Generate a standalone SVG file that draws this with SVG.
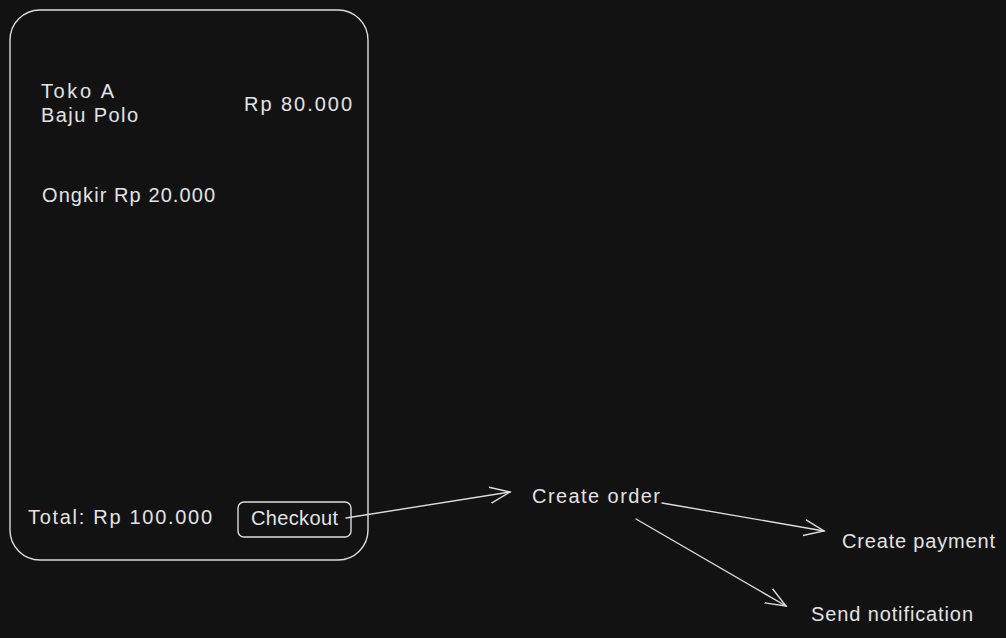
<svg xmlns="http://www.w3.org/2000/svg" width="1006" height="638" viewBox="0 0 1006 638">
<style>
.t{font-family:"Liberation Sans","Open Sans",sans-serif;font-size:20px;fill:#e3e3e3}
.s{fill:none;stroke:#dcdcdc;stroke-width:1.4;stroke-linecap:round;stroke-linejoin:round}
</style>
<defs>
<marker id="ah" markerUnits="userSpaceOnUse" markerWidth="30" markerHeight="30" refX="20" refY="10" orient="auto" viewBox="0 0 30 20">
<path d="M0,2 L20,10 L0,18" fill="none" stroke="#dcdcdc" stroke-width="1.4" stroke-linecap="round"/>
</marker>
</defs>
<rect width="1006" height="638" fill="#121212"/>
<g id="phone">
<rect class="s" x="10" y="10" width="358" height="550" rx="30"/>
<text class="t" x="41" y="98" textLength="73">Toko A</text>
<text class="t" x="41" y="122" textLength="97">Baju Polo</text>
<text class="t" x="244" y="111" textLength="108">Rp 80.000</text>
<text class="t" x="42" y="202" textLength="173">Ongkir Rp 20.000</text>
<text class="t" x="28" y="524" textLength="184">Total: Rp 100.000</text>
</g>
<g id="checkout">
<rect class="s" x="238" y="502" width="113" height="35" rx="6"/>
<text class="t" x="251" y="525" textLength="87">Checkout</text>
</g>
<g id="create-order"><text class="t" x="532" y="503" textLength="128">Create order</text></g>
<g id="create-payment"><text class="t" x="842" y="548" textLength="153">Create payment</text></g>
<g id="send-notification"><text class="t" x="811" y="621" textLength="162">Send notification</text></g>
<g id="connectors">
<path class="s" d="M346,518 L510,492" marker-end="url(#ah)"/>
<path class="s" d="M662,503 L824,531" marker-end="url(#ah)"/>
<path class="s" d="M636,519 L786,606" marker-end="url(#ah)"/>
</g>
</svg>
